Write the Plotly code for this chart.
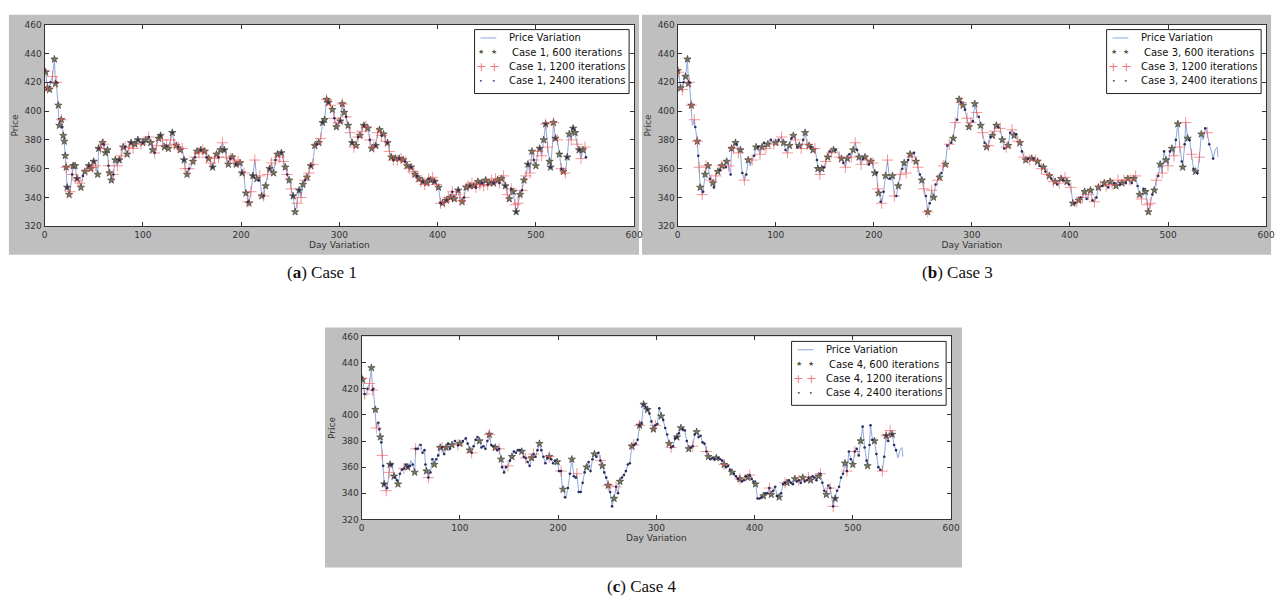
import numpy as np
import plotly.graph_objects as go

# ---------------- data ----------------
days = [0,1,3,5,6,8,10,11,12,14,15,17,18,19,20,21,22,23,25,26,28,29,31,33,34,36,37,39,41,43,45,47,49,50,52,54,55,57,59,60,
        62,64,65,66,68,70,72,74,76,78,80,82,84,86,88,90,92,95,98,100,103,106,108,110,112,114,116,118,120,122,124,126,128,130,
        132,134,136,138,140,142,143,145,147,149,151,153,155,157,159,161,163,165,167,169,171,173,175,177,179,181,183,185,187,
        189,191,193,195,197,199,201,203,204,205,207,208,210,212,214,216,218,219,221,223,225,227,229,231,233,235,237,239,241,
        243,245,247,249,251,253,255,257,259,261,263,265,267,269,271,273,275,277,279,281,283,285,287,289,291,293,295,297,299,
        301,303,305,307,309,311,313,315,317,319,321,323,325,327,329,331,333,335,337,339,341,343,345,347,349,351,353,355,357,
        359,361,363,365,367,369,371,373,375,377,379,381,383,385,387,389,391,393,395,397,399,401,403,405,407,409,411,413,415,
        417,419,421,423,425,427,429,431,433,435,437,439,441,443,445,447,449,451,453,455,457,459,461,463,465,467,469,471,473,
        475,477,479,480,482,484,486,488,490,492,494,496,498,500,502,504,506,508,510,512,514,515,517,518,520,522,524,526,528,
        530,532,534,536,538,540,542,544,546,548,550,551]
price = [428,427,416,415,420,424,436,419,420,404,390,394,389,383,379,369,361,347,342,344,356,362,362,353,352,350,347,355,358,359,
         362,360,361,365,362,356,374,374,378,377,371,373,362,357,352,356,366,362,366,369,375,375,370,375,378,374,377,380,377,378,
         380,382,378,373,371,376,381,383,380,375,376,374,380,385,377,376,375,373,374,366,360,356,360,361,365,368,372,371,373,373,
         372,368,367,364,361,367,370,368,373,378,373,368,363,367,368,366,363,365,364,357,357,346,343,337,336,344,355,366,353,352,
         355,341,341,348,356,360,364,357,366,370,368,371,365,361,356,352,346,341,330,336,345,340,349,352,354,357,362,363,376,377,
         378,381,392,394,408,406,404,401,395,389,392,393,405,399,396,390,385,378,375,376,382,383,386,390,389,388,380,374,375,376,
         385,387,383,384,379,378,372,368,366,367,366,367,367,366,365,362,360,361,358,356,355,353,351,351,349,350,353,352,354,351,
         349,347,336,336,337,338,340,340,344,339,342,345,338,337,340,347,348,348,350,348,347,351,349,350,348,352,349,350,352,350,
         353,352,350,353,355,348,342,339,346,344,335,330,336,342,345,352,355,363,357,372,366,362,372,374,369,380,391,375,365,361,
         377,392,381,380,370,360,358,357,368,384,380,388,385,377,373,367,373,375,368]

c1_600 = [1,3,5,10,11,14,15,17,19,20,21,22,23,25,29,31,33,37,41,45,47,50,54,55,59,62,64,66,68,72,76,80,84,88,92,95,100,103,108,110,
          116,118,122,126,130,134,138,142,145,151,155,159,163,167,171,175,179,183,187,191,195,199,201,205,208,212,216,221,225,229,
          233,237,241,245,249,253,255,259,263,267,271,275,279,283,285,287,289,293,297,301,303,305,309,313,317,321,325,329,333,337,
          341,345,349,353,357,361,365,369,373,377,381,385,389,393,397,401,405,409,413,417,421,425,429,433,437,441,445,449,453,457,
          461,465,469,473,477,480,484,488,492,496,500,504,508,510,514,515,518,520,524,528,532,534,538,540,544,548]
c1_1200 = [0,3,8,12,17,22,26,28,34,36,43,49,52,57,60,65,70,74,78,82,86,90,98,106,112,114,120,124,128,132,136,140,143,147,153,157,
           161,165,169,173,177,181,185,189,193,197,203,207,210,214,219,223,227,231,235,239,243,247,251,257,261,265,269,273,277,281,
           287,291,295,299,303,307,311,315,319,323,327,331,335,339,343,347,351,355,359,363,367,371,375,379,383,387,391,395,399,403,
           407,411,415,419,423,427,431,435,439,443,447,451,455,459,463,467,471,475,479,482,486,490,494,498,502,506,510,512,518,522,
           526,530,536,542,546,550]
c1_2400 = [0,6,12,18,23,28,33,39,45,50,55,60,65,70,76,82,88,95,100,106,112,118,124,130,136,142,147,153,159,165,171,177,183,189,195,
           201,207,212,218,223,229,235,241,247,253,259,265,271,277,283,289,295,301,307,313,319,325,331,337,343,349,355,361,367,373,
           379,385,391,397,403,409,415,421,427,433,439,445,451,457,463,469,475,480,486,492,498,504,510,515,520,526,532,538,544,551]

c3_600 = [0,3,8,10,11,14,20,23,28,31,36,41,45,50,55,59,64,72,80,86,92,100,108,114,118,124,130,134,138,143,147,153,159,167,173,179,
          185,191,197,201,205,212,219,225,231,237,243,249,255,261,267,273,281,287,291,297,303,309,315,321,325,331,337,343,349,355,
          361,367,373,379,385,391,397,403,409,415,421,429,435,441,447,453,459,465,471,477,480,486,492,498,504,510,515,520,528,534]
c3_1200 = [1,5,12,14,17,20,22,25,29,34,39,45,52,57,62,68,76,84,90,98,106,112,120,126,132,140,145,151,157,165,171,177,181,187,193,
           199,204,208,214,221,227,233,239,245,251,255,259,265,271,277,283,289,295,299,305,311,317,323,329,335,341,347,353,359,365,
           371,377,383,389,395,401,407,413,419,425,431,437,443,449,455,461,467,473,479,482,488,494,500,506,512,518,524,532,540]
c3_2400 = [0,6,12,18,21,26,33,37,43,49,54,60,66,70,78,82,88,95,103,110,116,122,128,136,142,149,155,161,169,175,183,189,195,203,
           207,210,216,223,229,235,241,247,253,257,263,269,275,279,285,289,293,301,307,313,319,327,333,339,345,351,357,363,369,375,
           381,387,393,399,405,411,417,423,427,433,439,445,451,457,463,469,475,484,490,496,502,508,514,517,522,526,530,538,542,546]

c4_600 = [1,10,14,19,23,29,33,37,47,54,66,74,80,86,92,100,110,120,130,136,142,153,163,173,181,191,199,205,214,229,237,245,251,257,
          263,275,283,287,291,297,305,313,321,325,333,341,353,361,369,377,385,393,401,409,417,425,433,441,449,457,465,473,482,492,
          500,508,515,522,534,540]
c4_1200 = [0,3,8,11,15,21,25,28,43,55,68,82,98,112,130,140,149,167,175,191,203,219,243,251,259,277,283,299,315,337,351,369,385,
           395,415,431,445,455,467,477,480,494,502,530,534,538]
c4_2400 = [0,3,6,11,12,17,18,20,22,23,26,29,31,34,36,39,41,43,45,47,49,52,55,57,60,62,64,65,68,70,72,76,78,82,84,88,90,95,98,103,
           106,108,112,114,116,118,122,124,126,128,132,134,138,140,143,145,147,151,155,157,159,161,165,167,169,171,175,177,179,183,
           185,187,189,193,195,197,201,203,207,210,212,216,218,221,223,225,227,231,233,235,239,241,243,247,249,253,255,259,261,265,
           267,269,271,273,277,279,281,283,285,287,289,291,293,295,299,301,303,307,309,311,315,317,319,321,323,327,329,331,335,337,
           339,343,345,347,349,351,355,357,359,363,365,367,371,373,375,379,381,383,387,389,391,395,397,399,403,405,407,411,413,415,
           419,421,423,427,429,431,435,437,439,443,445,447,451,453,455,459,461,463,467,469,471,475,477,480,482,484,486,488,490,494,
           496,498,502,504,506,510,512,514,517,518,520,524,526,528,532,534,536,540,542,544]

x_ticks = [0, 100, 200, 300, 400, 500, 600]
y_ticks = [320, 340, 360, 380, 400, 420, 440, 460]

panels = [
    ("Case 1", c1_600, c1_1200, c1_2400),
    ("Case 3", c3_600, c3_1200, c3_2400),
    ("Case 4", c4_600, c4_1200, c4_2400),
]
captions = ["(<b>a</b>) Case 1", "(<b>b</b>) Case 3", "(<b>c</b>) Case 4"]

# ---------------- figure ----------------
W, H = 1285, 610
days_arr = np.array(days)
price_arr = np.array(price)


def pick(dlist):
    idx = [int(np.argmin(np.abs(days_arr - d))) for d in dlist]
    return days_arr[idx], price_arr[idx]


def fx(p):
    return p / W


def fy(p):
    return 1 - p / H


plot_boxes = [  # left, right, top, bottom in pixels
    (42, 637, 20, 225),
    (681, 1275, 20, 225),
    (362, 957, 337, 523),
]
gray_boxes = [
    (6, 642, 10, 254),
    (645, 1280, 10, 254),
    (325, 968, 328, 572),
]
caption_pos = [(322, 272), (963, 272), (645, 591)]

fig = go.Figure()
LINE_C = "#8eaadb"
STAR_C = "rgba(115,115,80,0.95)"
CROSS_C = "rgba(235,80,80,0.6)"
DOT_C = "#2b2b5c"
AX_FONT = dict(family="DejaVu Sans", size=9, color="#333")
LEG_FONT = dict(family="DejaVu Sans", size=10, color="#111")

for i, (case, s600, s1200, s2400) in enumerate(panels):
    n = "" if i == 0 else str(i + 1)
    xa, ya = "x" + n, "y" + n
    fig.add_trace(go.Scatter(x=days, y=price, mode="lines", line=dict(color=LINE_C, width=1),
                             name="Price Variation", xaxis=xa, yaxis=ya))
    x6, y6 = pick(s600)
    fig.add_trace(go.Scatter(x=x6, y=y6, mode="markers", name=case + ", 600 iterations",
                             marker=dict(symbol="star", size=5.5, color=STAR_C,
                                         line=dict(color="#333", width=0.6)),
                             xaxis=xa, yaxis=ya))
    x12, y12 = pick(s1200)
    fig.add_trace(go.Scatter(x=x12, y=y12, mode="markers", name=case + ", 1200 iterations",
                             marker=dict(symbol="cross-thin", size=8,
                                         line=dict(color=CROSS_C, width=1)),
                             xaxis=xa, yaxis=ya))
    x24, y24 = pick(s2400)
    fig.add_trace(go.Scatter(x=x24, y=y24, mode="markers", name=case + ", 2400 iterations",
                             marker=dict(symbol="circle", size=2.6, color=DOT_C),
                             xaxis=xa, yaxis=ya))

    l, r, t, b = plot_boxes[i]
    axcommon = dict(showline=True, linecolor="#333", linewidth=1, mirror="ticks", ticks="inside",
                    ticklen=4, tickcolor="#333", showgrid=False, zeroline=False, tickfont=AX_FONT)
    fig.layout["xaxis" + n] = dict(domain=[fx(l), fx(r)], range=[0, 600], tickvals=x_ticks,
                                   anchor=ya, title=dict(text="Day Variation", font=AX_FONT, standoff=2),
                                   **axcommon)
    fig.layout["yaxis" + n] = dict(domain=[fy(b), fy(t)], range=[320, 460], tickvals=y_ticks,
                                   anchor=xa, title=dict(text="Price", font=AX_FONT, standoff=4),
                                   **axcommon)

    # gray frame
    gl, gr, gt, gb = gray_boxes[i]
    fig.add_shape(type="rect", xref="paper", yref="paper", x0=fx(gl), x1=fx(gr),
                  y0=fy(gb), y1=fy(gt), fillcolor="#bfbfbf", line=dict(width=0), layer="below")
    fig.add_shape(type="rect", xref="paper", yref="paper", x0=fx(l), x1=fx(r),
                  y0=fy(b), y1=fy(t), fillcolor="white", line=dict(width=0), layer="below")

    # legend (matplotlib-style box)
    bx1, bx0 = r - 5, r - 161
    by0, by1 = t + 5, t + 70
    fig.add_shape(type="rect", xref="paper", yref="paper", x0=fx(bx0), x1=fx(bx1),
                  y0=fy(by1), y1=fy(by0), fillcolor="white", line=dict(color="#222", width=1))
    rows = [t + 13.5, t + 28, t + 42.5, t + 57]
    fig.add_shape(type="line", xref="paper", yref="paper", x0=fx(bx0 + 6), x1=fx(bx0 + 22),
                  y0=fy(rows[0]), y1=fy(rows[0]), line=dict(color=LINE_C, width=1))
    labels = ["Price Variation", case + ", 600 iterations", case + ", 1200 iterations", case + ", 2400 iterations"]
    for k, lab in enumerate(labels):
        fig.add_annotation(text=lab, x=fx(bx0 + 33 + (3 if k == 1 else 0)), y=fy(rows[k]),
                           xref="paper", yref="paper", showarrow=False, xanchor="left", yanchor="middle",
                           font=LEG_FONT)
    sym = [("★", 7, "#55553a", 1), ("+", 13, "rgba(235,80,80,0.75)", 2), ("•", 6, DOT_C, 3)]
    for glyph, size, col, k in sym:
        for dx in (7, 20):
            fig.add_annotation(text=glyph, x=fx(bx0 + dx), y=fy(rows[k]), xref="paper", yref="paper",
                               showarrow=False, xanchor="center", yanchor="middle",
                               font=dict(family="DejaVu Sans", size=size, color=col))

    cx, cy = caption_pos[i]
    fig.add_annotation(text=captions[i], x=fx(cx), y=fy(cy), xref="paper", yref="paper", showarrow=False,
                       xanchor="center", yanchor="middle",
                       font=dict(family="Liberation Serif", size=17, color="#111"))

fig.update_layout(width=W, height=H, margin=dict(l=0, r=0, t=0, b=0),
                  paper_bgcolor="white", plot_bgcolor="white", showlegend=False)

fig.write_html("out.html", config={"displayModeBar": False},
               post_script="document.body.style.margin='0px';")
